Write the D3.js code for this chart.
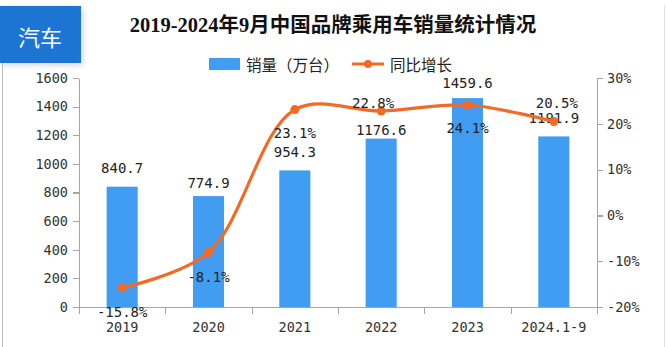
<!DOCTYPE html>
<html>
<head>
<meta charset="utf-8">
<script src="https://cdn.jsdelivr.net/npm/d3@7"></script>
<style>
  html, body { margin: 0; padding: 0; background: #fff; }
  svg { display: block; }
  .axis path, .axis line { stroke: #a6a6a6; stroke-width: 1.2; shape-rendering: crispEdges; }
  .axis text { font-family: "DejaVu Sans Mono", monospace; font-size: 13.5px; fill: #333; }
  .lbl { font-family: "DejaVu Sans Mono", monospace; font-size: 14px; fill: #222; }
</style>
</head>
<body>
<div id="chart"></div>
<script>
// data
const years = ["2019", "2020", "2021", "2022", "2023", "2024.1-9"];
const sales = [840.7, 774.9, 954.3, 1176.6, 1459.6, 1191.9];   // 万台
const growth = [-15.8, -8.1, 23.1, 22.8, 24.1, 20.5];          // %
const salesTicks = [0, 200, 400, 600, 800, 1000, 1200, 1400, 1600];
const growthTicks = [-20, -10, 0, 10, 20, 30];

// label nudges (the original labels were moved by hand)
const salesLabelDy = [-18.7, -13, -18.5, -8.6, -15, -18.4];
const growthLabelDx = [0, 0, 0, -8, 0, 3];
const growthLabelDy = [24, 24.5, 23, -8, 23, -18.5];

let width = 666, height = 347;
let plot = { left: 79, right: 597, top: 78, bottom: 307 };
let barColor = "#409df2";
let lineColor = "#f26a24";

let svg = d3.select("#chart").append("svg")
    .attr("width", width)
    .attr("height", height);

let defs = svg.append("defs");
let shadow = defs.append("filter").attr("id", "shadow")
    .attr("x", "-20%").attr("y", "-20%").attr("width", "150%").attr("height", "150%");
shadow.append("feDropShadow")
    .attr("dx", 2).attr("dy", 2).attr("stdDeviation", 3)
    .attr("flood-color", "#000").attr("flood-opacity", 0.18);

// card edges
svg.append("line")
    .attr("x1", 2.5).attr("x2", 2.5).attr("y1", 63).attr("y2", height)
    .attr("stroke", "#bdbdbd");
svg.append("line")
    .attr("x1", 664.5).attr("x2", 664.5).attr("y1", 5).attr("y2", height)
    .attr("stroke", "#e2e2e2");

// badge
svg.append("rect")
    .attr("x", 0).attr("y", 6).attr("width", 81).attr("height", 57)
    .attr("fill", "#1f74d2")
    .attr("filter", "url(#shadow)");
svg.append("text")
    .attr("x", 40).attr("y", 36)
    .attr("text-anchor", "middle")
    .attr("dominant-baseline", "central")
    .style("font-family", "'Noto Sans CJK SC'")
    .style("font-size", "22px")
    .attr("fill", "#fff")
    .text("汽车");

// title
svg.append("text")
    .attr("x", 333).attr("y", 32)
    .attr("text-anchor", "middle")
    .style("font-family", "'Liberation Serif', 'Noto Sans CJK SC'")
    .style("font-size", "20.5px")
    .style("font-weight", "bold")
    .attr("fill", "#111")
    .text("2019-2024年9月中国品牌乘用车销量统计情况");

// legend
let legend = svg.append("g").style("font-family", "'Noto Sans CJK SC'").style("font-size", "15.5px");
legend.append("rect")
    .attr("x", 209).attr("y", 58).attr("width", 31).attr("height", 12)
    .attr("fill", barColor);
legend.append("text")
    .attr("x", 246).attr("y", 64)
    .attr("dominant-baseline", "central")
    .attr("fill", "#222")
    .text("销量（万台）");
legend.append("line")
    .attr("x1", 352).attr("x2", 384).attr("y1", 64).attr("y2", 64)
    .attr("stroke", lineColor).attr("stroke-width", 3);
legend.append("circle")
    .attr("cx", 368).attr("cy", 64).attr("r", 4)
    .attr("fill", lineColor);
legend.append("text")
    .attr("x", 390).attr("y", 64)
    .attr("dominant-baseline", "central")
    .attr("fill", "#222")
    .text("同比增长");

// scales
let x = d3.scaleBand()
    .domain(years)
    .range([plot.left, plot.right])
    .paddingInner(0.64)
    .paddingOuter(0.32);
let xEdges = d3.scaleLinear()
    .domain([0, years.length])
    .range([plot.left, plot.right]);
let yL = d3.scaleLinear().domain([0, 1600]).range([plot.bottom, plot.top]);
let yR = d3.scaleLinear().domain([-20, 30]).range([plot.bottom, plot.top]);
let cx = d => x(d) + x.bandwidth() / 2;

// axes
svg.append("g")
    .attr("class", "axis")
    .attr("transform", `translate(${plot.left},0)`)
    .call(d3.axisLeft(yL).tickValues(salesTicks).tickSize(6).tickSizeOuter(0).tickPadding(5)
        .tickFormat(d3.format("d")));

svg.append("g")
    .attr("class", "axis")
    .attr("transform", `translate(${plot.right},0)`)
    .call(d3.axisRight(yR).tickValues(growthTicks).tickSize(6).tickSizeOuter(0).tickPadding(4)
        .tickFormat(d => d + "%"));

// bottom: edge ticks from a linear scale, labels from the band scale
svg.append("g")
    .attr("class", "axis")
    .attr("transform", `translate(0,${plot.bottom})`)
    .call(d3.axisBottom(xEdges).ticks(years.length).tickSize(7).tickSizeOuter(0).tickFormat(""));
let xLab = svg.append("g")
    .attr("class", "axis")
    .attr("transform", `translate(0,${plot.bottom})`)
    .call(d3.axisBottom(x).tickSize(0).tickPadding(15));
xLab.select(".domain").remove();

// bars
svg.append("g")
    .selectAll("rect")
    .data(years)
    .join("rect")
    .attr("x", d => x(d))
    .attr("width", x.bandwidth())
    .attr("y", (d, i) => yL(sales[i]))
    .attr("height", (d, i) => yL(0) - yL(sales[i]))
    .attr("fill", barColor);

// bar labels
svg.append("g")
    .selectAll("text")
    .data(years)
    .join("text")
    .attr("class", "lbl")
    .attr("x", d => cx(d))
    .attr("y", (d, i) => yL(sales[i]) + salesLabelDy[i])
    .attr("text-anchor", "middle")
    .attr("dominant-baseline", "central")
    .text((d, i) => sales[i].toFixed(1));

// growth line
let line = d3.line()
    .x(d => cx(d))
    .y((d, i) => yR(growth[i]))
    .curve(d3.curveCatmullRom.alpha(0.5));
svg.append("path")
    .datum(years)
    .attr("d", line)
    .attr("fill", "none")
    .attr("stroke", lineColor)
    .attr("stroke-width", 3.2);

svg.append("g")
    .selectAll("circle")
    .data(years)
    .join("circle")
    .attr("cx", d => cx(d))
    .attr("cy", (d, i) => yR(growth[i]))
    .attr("r", 4.5)
    .attr("fill", lineColor);

// growth labels
svg.append("g")
    .selectAll("text")
    .data(years)
    .join("text")
    .attr("class", "lbl")
    .attr("x", (d, i) => cx(d) + growthLabelDx[i])
    .attr("y", (d, i) => yR(growth[i]) + growthLabelDy[i])
    .attr("text-anchor", "middle")
    .attr("dominant-baseline", "central")
    .text((d, i) => growth[i].toFixed(1) + "%");
</script>
</body>
</html>
